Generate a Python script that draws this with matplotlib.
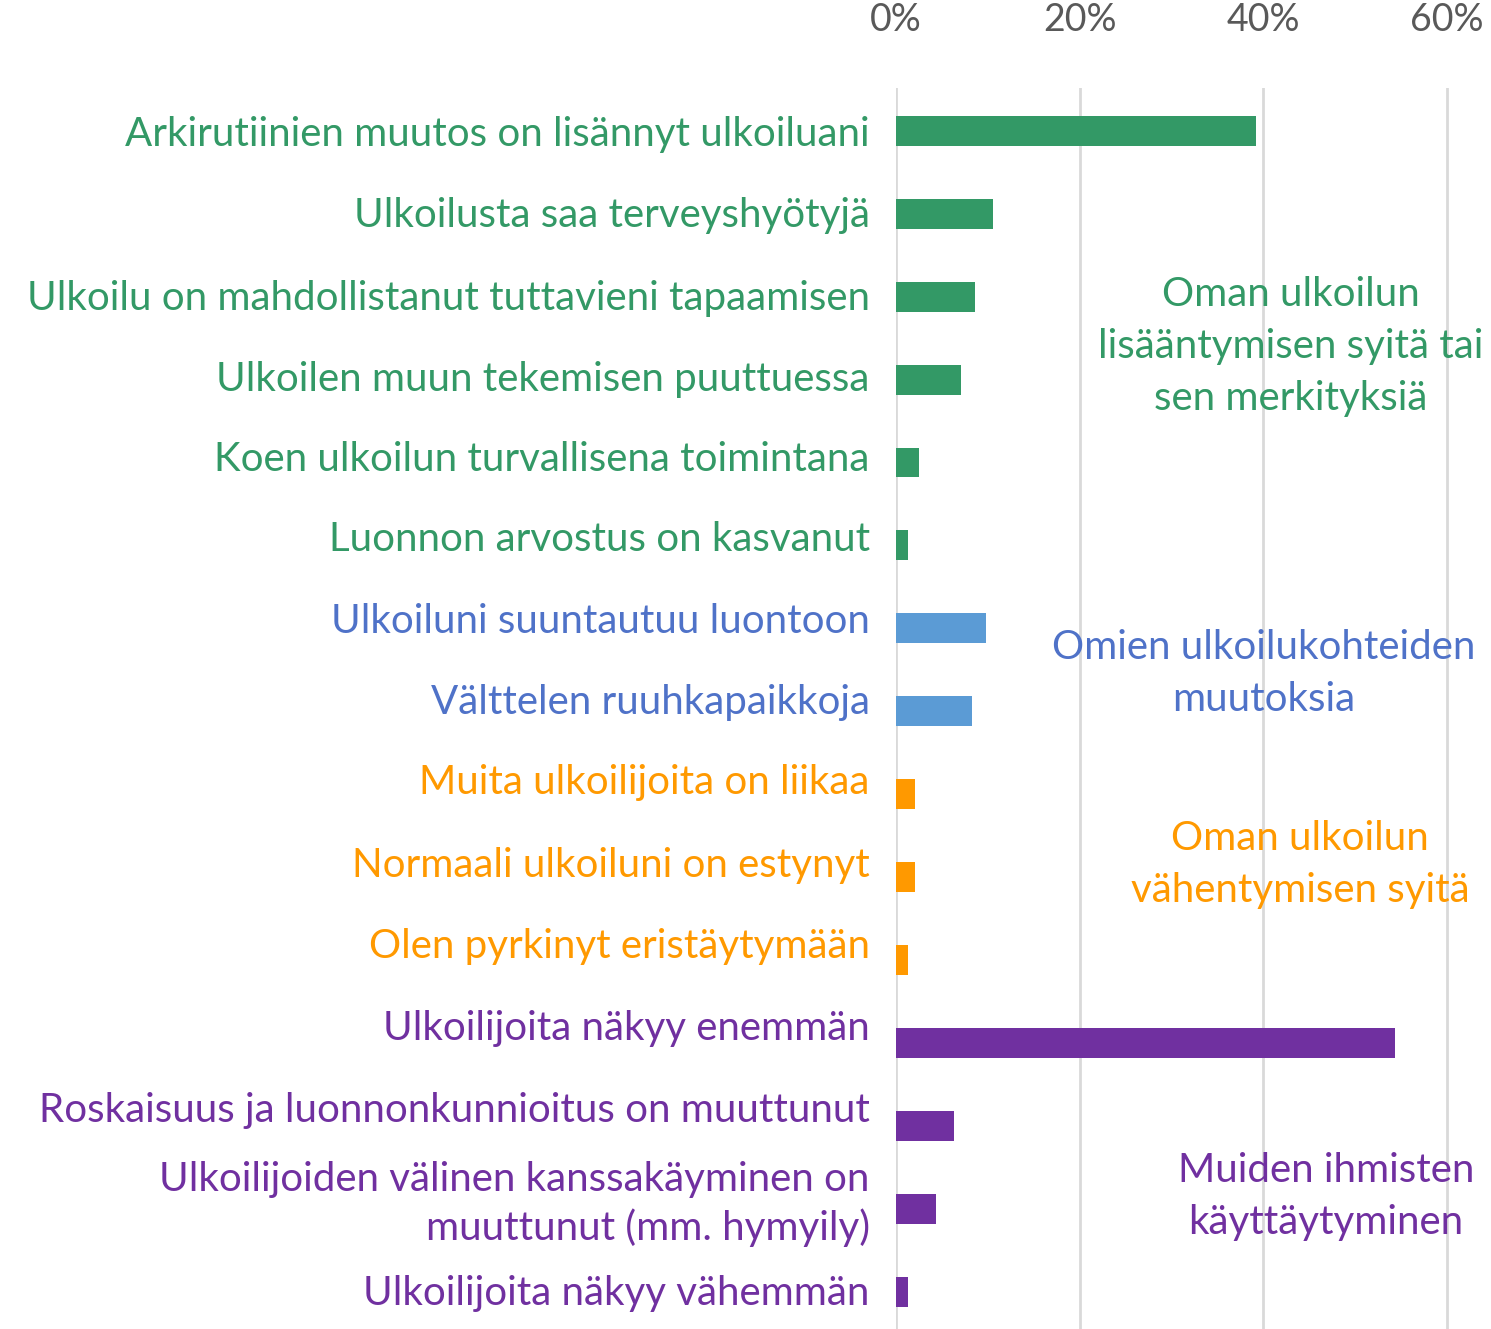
import matplotlib
matplotlib.use("Agg")
import matplotlib.pyplot as plt

# data (share of respondents)
labels = [
    "Arkirutiinien muutos on lisännyt ulkoiluani",
    "Ulkoilusta saa terveyshyötyjä",
    "Ulkoilu on mahdollistanut tuttavieni tapaamisen",
    "Ulkoilen muun tekemisen puuttuessa",
    "Koen ulkoilun turvallisena toimintana",
    "Luonnon arvostus on kasvanut",
    "Ulkoiluni suuntautuu luontoon",
    "Välttelen ruuhkapaikkoja",
    "Muita ulkoilijoita on liikaa",
    "Normaali ulkoiluni on estynyt",
    "Olen pyrkinyt eristäytymään",
    "Ulkoilijoita näkyy enemmän",
    "Roskaisuus ja luonnonkunnioitus on muuttunut",
    "Ulkoilijoiden välinen kanssakäyminen on\nmuuttunut (mm. hymyily)",
    "Ulkoilijoita näkyy vähemmän",
]
values = [0.392, 0.106, 0.086, 0.071, 0.025, 0.013,
          0.098, 0.083,
          0.021, 0.021, 0.013,
          0.543, 0.063, 0.044, 0.013]
groups = [0, 0, 0, 0, 0, 0, 1, 1, 2, 2, 2, 3, 3, 3, 3]
group_names = [
    "Oman ulkoilun\nlisääntymisen syitä tai\nsen merkityksiä",
    "Omien ulkoilukohteiden\nmuutoksia",
    "Oman ulkoilun\nvähentymisen syitä",
    "Muiden ihmisten\nkäyttäytyminen",
]
bar_colors = ["#339966", "#5B9BD5", "#FF9900", "#7030A0"]
text_colors = ["#339966", "#4F72C8", "#FF9900", "#7030A0"]
# the original labels drift upward from their bars (pixels)
label_shift = [0, 2, 2, 4, 7, 9, 10, 12, 15, 15, 17, 18, 19, 13, 2]

plt.rcParams["font.family"] = ["Lato", "DejaVu Sans"]

fig = plt.figure(figsize=(14.91, 13.29), dpi=100)
ax = fig.add_axes([0.601, 0.0, 0.399, 0.934])

ypos = list(range(len(labels)))
ax.barh(ypos, values, height=0.36, color=[bar_colors[g] for g in groups])
ax.set_ylim(len(labels) - 0.55, -0.52)
ax.set_xlim(0, 0.648)

ax.set_xticks([0, 0.2, 0.4, 0.6])
ax.set_xticklabels(["0%", "20%", "40%", "60%"])
ax.xaxis.tick_top()
ax.tick_params(axis="x", length=0, pad=36, labelsize=27, labelcolor="#595959")
ax.grid(axis="x", color="#D9D9D9", linewidth=2)
ax.set_axisbelow(True)
for s in ax.spines.values():
    s.set_visible(False)
ax.set_yticks([])

# category labels, placed by hand so they can sit a bit off the bars
for y, lab, g, sh in zip(ypos, labels, groups, label_shift):
    ax.annotate(lab, xy=(0, y), xycoords=("axes fraction", "data"),
                xytext=(-19, sh * 0.72), textcoords="offset points",
                ha="right", va="center_baseline", multialignment="right",
                fontsize=29, color=text_colors[g], linespacing=1.3)

# group captions inside the plot
captions = [(0.43, 2.6), (0.40, 6.55), (0.44, 8.85), (0.468, 12.85)]
for (cx, cy), name, col in zip(captions, group_names, text_colors):
    ax.text(cx, cy, name, ha="center", va="center", fontsize=29,
            color=col, linespacing=1.5)

fig.savefig("out.png", dpi=100)
